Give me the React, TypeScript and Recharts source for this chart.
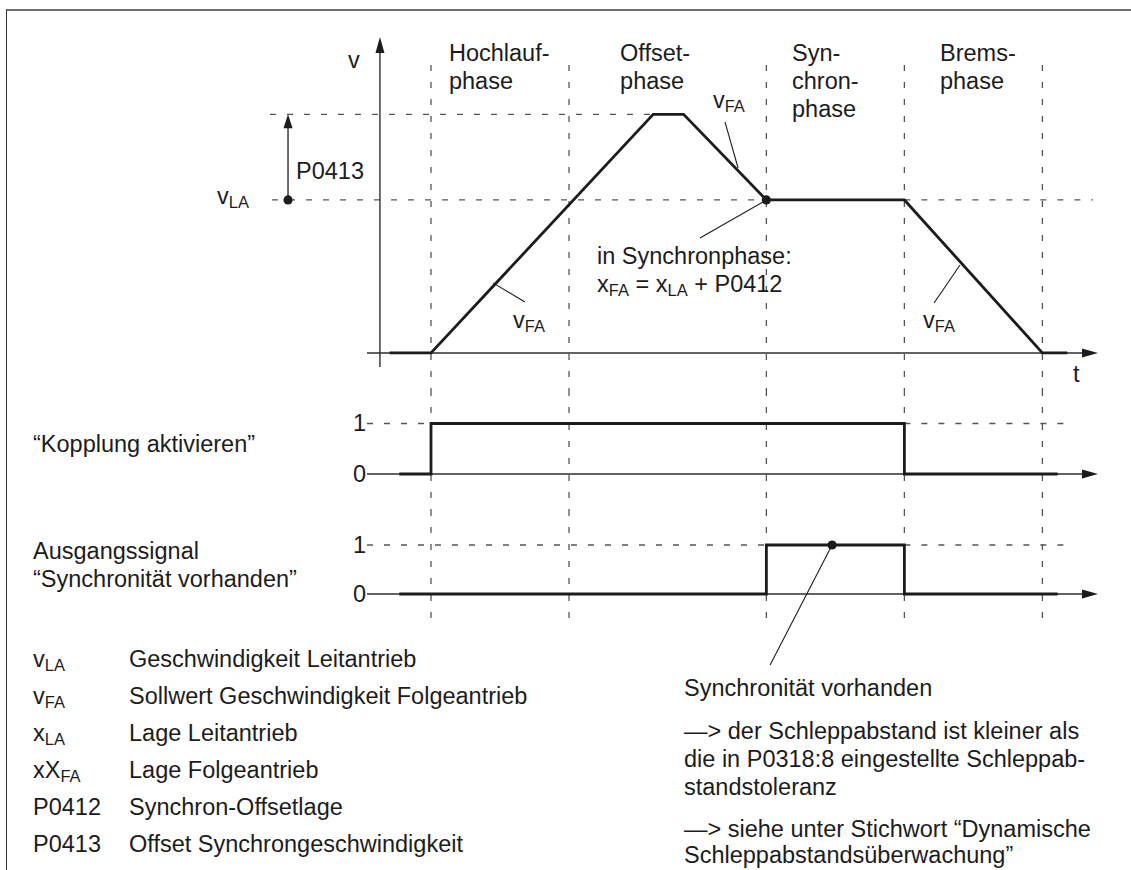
import React from "react";
import { LineChart, Line, XAxis, YAxis, ReferenceLine, ReferenceDot } from "recharts";

const FONT = '"Liberation Sans", Arial, Helvetica, sans-serif';
const FS = 23.5; // main text size
const SUB = 16.5; // subscript size
const INK = "#1c1c1c";
const AXIS = "#2e2e2e";
const GRID = "#555";
const DASH = "6 11";
const W = 1131;

// time axis (1 unit = length of the Hochlauf phase)
const X_DOMAIN = [-3.123, 5.072];
const PHASE_T = [0, 1, 2.43, 3.43, 4.43];
const PHASE_LABELS = [
  { t: 0.13, lines: ["Hochlauf-", "phase"] },
  { t: 1.37, lines: ["Offset-", "phase"] },
  { t: 2.616, lines: ["Syn-", "chron-", "phase"] },
  { t: 3.688, lines: ["Brems-", "phase"] },
];

const V_LA = 1;
const V_PEAK = 1.56; // v_LA + P0413

// setpoint speed of the following drive
const SPEED = [
  { t: -0.3, v: 0 },
  { t: 0, v: 0 },
  { t: 1.61, v: 1.56 },
  { t: 1.83, v: 1.56 },
  { t: 2.43, v: 1 },
  { t: 3.43, v: 1 },
  { t: 4.43, v: 0 },
  { t: 4.61, v: 0 },
];

// binary signals (stepAfter)
const KOPPLUNG = [
  { t: -0.23, s: 0 },
  { t: 0, s: 1 },
  { t: 3.43, s: 0 },
  { t: 4.54, s: 0 },
];
const SYNC = [
  { t: -0.23, s: 0 },
  { t: 2.43, s: 1 },
  { t: 3.43, s: 0 },
  { t: 4.54, s: 0 },
];

const LEGEND = [
  { sym: "v", sub: "LA", text: "Geschwindigkeit Leitantrieb" },
  { sym: "v", sub: "FA", text: "Sollwert Geschwindigkeit Folgeantrieb" },
  { sym: "x", sub: "LA", text: "Lage Leitantrieb" },
  { sym: "xX", sub: "FA", text: "Lage Folgeantrieb" },
  { sym: "P0412", sub: "", text: "Synchron-Offsetlage" },
  { sym: "P0413", sub: "", text: "Offset Synchrongeschwindigkeit" },
];
const LEGEND_BASELINES = [668, 705, 742, 779, 816, 853];

const NOTES = [
  { y: 697, text: "Synchronität vorhanden" },
  { y: 740, text: "—> der Schleppabstand ist kleiner als" },
  { y: 768, text: "die in P0318:8 eingestellte Schleppab-" },
  { y: 796, text: "standstoleranz" },
  { y: 838, text: "—> siehe unter Stichwort “Dynamische" },
  { y: 864, text: "Schleppabstandsüberwachung”" },
];

const MARGIN = { top: 0, right: 0, bottom: 0, left: 0 };

const subT = (s: string, key: string) => [
  <tspan key={key + "s"} fontSize={SUB} dy={4}>{s}</tspan>,
];

function note(key: string, x: number, y: number, content: any, dy = 0, anchor = "start") {
  return (
    <ReferenceDot
      key={key}
      x={x}
      y={y}
      r={0}
      ifOverflow="visible"
      shape={(p: any) => (
        <text x={p.cx} y={p.cy} dy={dy} textAnchor={anchor} fontFamily={FONT} fontSize={FS} fill={INK}>
          {content}
        </text>
      )}
    />
  );
}

function seg(key: string, a: [number, number], b: [number, number], dashed = false, color = GRID, w = 1.3) {
  return (
    <ReferenceLine
      key={key}
      segment={[{ x: a[0], y: a[1] }, { x: b[0], y: b[1] }]}
      stroke={color}
      strokeWidth={w}
      strokeDasharray={dashed ? DASH : undefined}
      ifOverflow="visible"
    />
  );
}

const arrowUp = (len: number, half: number) => (p: any) => (
  <polygon points={`${p.cx},${p.cy} ${p.cx - half},${p.cy + len} ${p.cx + half},${p.cy + len}`} fill={INK} />
);
const arrowRight = (p: any) => (
  <polygon points={`${p.cx},${p.cy} ${p.cx - 16},${p.cy - 4.5} ${p.cx - 16},${p.cy + 4.5}`} fill={INK} />
);

function dot(key: string, x: number, y: number) {
  return <ReferenceDot key={key} x={x} y={y} r={4.6} fill={INK} stroke="none" ifOverflow="visible" />;
}

function vFA(key: string, x: number, y: number) {
  return note(key, x, y, [<tspan key="v">v</tspan>, ...subT("FA", key)]);
}

function SpeedChart() {
  return (
    <LineChart width={W} height={390} margin={MARGIN}>
      <XAxis type="number" dataKey="t" domain={X_DOMAIN} hide allowDataOverflow scale="linear" />
      <YAxis type="number" domain={[-0.242, 2.307]} hide allowDataOverflow scale="linear" />
      {PHASE_T.map((t, i) => seg("ph" + i, [t, 1.882], [t, -0.242], true))}
      {seg("peak", [-1.167, V_PEAK], [1.61, V_PEAK], true)}
      {seg("la1", [-1.152, V_LA], [2.43, V_LA], true)}
      {seg("la2", [3.43, V_LA], [4.797, V_LA], true)}
      {seg("vax", [-0.37, -0.092], [-0.37, 2.0], false, AXIS, 1.4)}
      {seg("tax", [-0.464, 0], [4.75, 0], false, AXIS, 1.4)}
      <ReferenceDot x={-0.37} y={2.065} r={0} ifOverflow="visible" shape={arrowUp(16, 4.5)} />
      <ReferenceDot x={4.833} y={0} r={0} ifOverflow="visible" shape={arrowRight} />
      {seg("p413", [-1.036, V_LA], [-1.036, 1.48], false, AXIS, 1.4)}
      <ReferenceDot x={-1.036} y={V_PEAK} r={0} ifOverflow="visible" shape={arrowUp(14, 4.5)} />
      {seg("l1", [2.13, 1.51], [2.225, 1.209], false, INK, 1.1)}
      {seg("l2", [0.449, 0.458], [0.681, 0.333], false, INK, 1.1)}
      {seg("l3", [3.833, 0.575], [3.645, 0.327], false, INK, 1.1)}
      {seg("l4", [2.43, V_LA], [1.949, 0.752], false, INK, 1.1)}
      <Line
        data={SPEED}
        dataKey="v"
        type="linear"
        stroke={INK}
        strokeWidth={2.8}
        strokeLinejoin="miter"
        dot={false}
        activeDot={false}
        isAnimationActive={false}
      />
      {dot("d1", 2.43, V_LA)}
      {dot("d2", -1.036, V_LA)}
      {PHASE_LABELS.flatMap((p, i) =>
        p.lines.map((l, j) => note(`pl${i}-${j}`, p.t, 1.91 - j * 0.183, l))
      )}
      {note("v", -0.601, 1.863, "v")}
      {note("t", 4.652, -0.19, "t")}
      {note("p0413", -0.978, 1.137, "P0413")}
      {note("vla", -1.551, 0.974, [<tspan key="v">v</tspan>, ...subT("LA", "vla")])}
      {vFA("fa1", 2.043, 1.601)}
      {vFA("fa2", 0.594, 0.163)}
      {vFA("fa3", 3.565, 0.163)}
      {note("syn1", 1.203, 0.582, "in Synchronphase:")}
      {note("syn2", 1.203, 0.399, [
        <tspan key="a">x</tspan>,
        <tspan key="b" fontSize={SUB} dy={4}>FA</tspan>,
        <tspan key="c" dy={-4}> = x</tspan>,
        <tspan key="d" fontSize={SUB} dy={4}>LA</tspan>,
        <tspan key="e" dy={-4}> + P0412</tspan>,
      ])}
    </LineChart>
  );
}

function SignalChart({ data, height, domain, bottom, openUntil, dotAt }: any) {
  return (
    <LineChart width={W} height={height} margin={MARGIN}>
      <XAxis type="number" dataKey="t" domain={X_DOMAIN} hide allowDataOverflow scale="linear" />
      <YAxis type="number" domain={domain} hide allowDataOverflow scale="linear" />
      {PHASE_T.map((t, i) => seg("ph" + i, [t, domain[1]], [t, bottom], true))}
      {seg("one1", [-0.464, 1], [openUntil, 1], true)}
      {seg("one2", [3.43, 1], [4.645, 1], true)}
      {seg("base", [-0.464, 0], [4.75, 0], false, AXIS, 1.3)}
      <ReferenceDot x={4.833} y={0} r={0} ifOverflow="visible" shape={arrowRight} />
      {dotAt && seg("lead", [dotAt, 1], [2.457, -1.449], false, INK, 1.1)}
      <Line
        data={data}
        dataKey="s"
        type="stepAfter"
        stroke={INK}
        strokeWidth={2.8}
        strokeLinejoin="miter"
        dot={false}
        activeDot={false}
        isAnimationActive={false}
      />
      {dotAt && dot("sd", dotAt, 1)}
      {note("one", -0.565, 1, "1", 8)}
      {note("zero", -0.565, 0, "0", 8)}
    </LineChart>
  );
}

const abs = (left: number, baseline: number, content: any, key?: string) => (
  <div
    key={key}
    style={{
      position: "absolute",
      left,
      top: baseline - 19.9,
      fontSize: FS,
      lineHeight: `${FS}px`,
      whiteSpace: "nowrap",
      color: INK,
    }}
  >
    {content}
  </div>
);

const subH = (s: string) => (
  <span style={{ fontSize: SUB, position: "relative", top: 4 }}>{s}</span>
);

export default function App() {
  return (
    <div
      style={{
        position: "absolute",
        left: 0,
        top: 0,
        width: W,
        height: 870,
        background: "#fff",
        overflow: "hidden",
        fontFamily: FONT,
      }}
    >
      <div
        style={{
          position: "absolute",
          left: 6,
          top: 9,
          width: W,
          height: 900,
          borderTop: "2px solid #6d6d6d",
          borderLeft: "1.5px solid #3a3a3a",
        }}
      />
      <div style={{ position: "absolute", left: 0, top: 0 }}>
        <SpeedChart />
      </div>
      <div style={{ position: "absolute", left: 0, top: 390 }}>
        <SignalChart data={KOPPLUNG} height={120} domain={[-0.713, 1.663]} bottom={-0.713} openUntil={0} />
      </div>
      <div style={{ position: "absolute", left: 0, top: 510 }}>
        <SignalChart data={SYNC} height={360} domain={[-5.633, 1.714]} bottom={-0.49} openUntil={2.43} dotAt={2.906} />
      </div>
      {abs(33, 453, "“Kopplung aktivieren”")}
      {abs(33, 560, "Ausgangssignal")}
      {abs(33, 588, "“Synchronität vorhanden”")}
      {LEGEND.map((r, i) => (
        <React.Fragment key={"lg" + i}>
          {abs(33, LEGEND_BASELINES[i], <>{r.sym}{r.sub && subH(r.sub)}</>)}
          {abs(129, LEGEND_BASELINES[i], r.text)}
        </React.Fragment>
      ))}
      {NOTES.map((n, i) => abs(684, n.y, n.text, "n" + i))}
    </div>
  );
}
